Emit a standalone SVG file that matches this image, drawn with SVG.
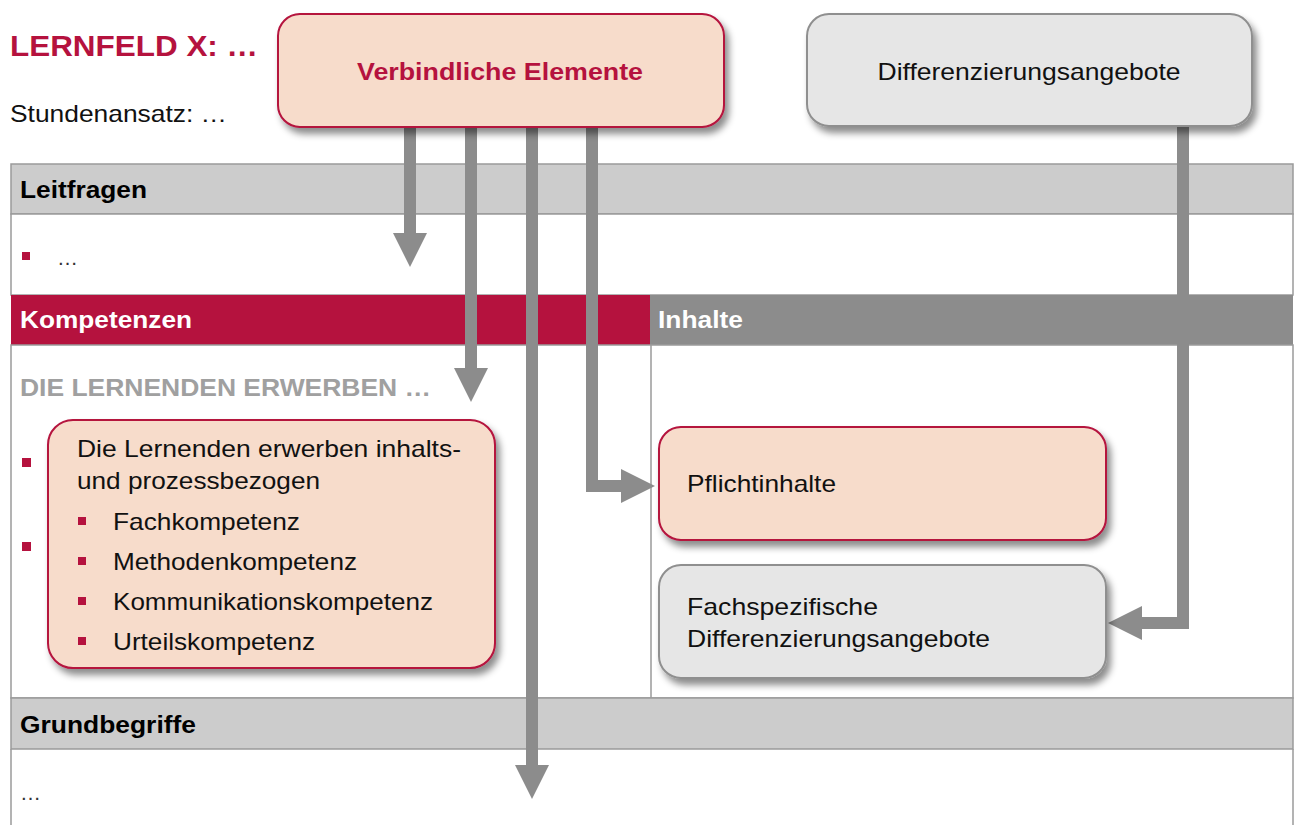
<svg xmlns="http://www.w3.org/2000/svg" width="1295" height="825" viewBox="0 0 1295 825">
<style>
text{font-family:"Liberation Sans",Arial,sans-serif}
.hd{font-size:23.5px;font-weight:bold}
.t24{font-size:24px;fill:#111}
.red{fill:#b5123e}
.wh{fill:#fff}
.conn{fill:none;stroke:#8c8c8c;stroke-width:12;stroke-linejoin:miter;marker-end:url(#ah)}
.pink{fill:#f7dccb;stroke:#b5123e;stroke-width:2}
.grey{fill:#e6e6e6;stroke:#8f8f8f;stroke-width:2}
.grid{fill:none;stroke:#9a9a9a;stroke-width:1.5}
</style>
<defs>
<filter id="sh" x="-10%" y="-20%" width="125%" height="150%">
<feDropShadow dx="4" dy="6" stdDeviation="3.5" flood-color="#000" flood-opacity="0.45"/>
</filter>
<marker id="ah" markerUnits="userSpaceOnUse" markerWidth="36" markerHeight="36" viewBox="0 -18 36 36" refX="0" refY="0" orient="auto">
<path d="M0,-17 L34,0 L0,17 Z" fill="#8c8c8c"/>
</marker>
</defs>
<rect width="1295" height="825" fill="#fff"/>

<g id="header">
<text x="10" y="56" font-size="29" font-weight="bold" class="red" textLength="248" lengthAdjust="spacingAndGlyphs">LERNFELD X: …</text>
<text x="10" y="122" class="t24" textLength="217" lengthAdjust="spacingAndGlyphs">Stundenansatz: …</text>
</g>

<g id="table">
<rect x="11" y="164" width="1282" height="50" fill="#cccccc" stroke="#9a9a9a" stroke-width="1.5"/>
<text x="20" y="198" class="hd" fill="#000" textLength="127" lengthAdjust="spacingAndGlyphs">Leitfragen</text>
<rect x="11" y="214" width="1282" height="81" fill="#fff" stroke="#9a9a9a" stroke-width="1.5"/>
<rect x="22" y="252" width="8" height="8" fill="#b5123e"/>
<text x="57" y="265" font-size="21" fill="#333">…</text>
<rect x="11" y="295" width="639" height="50" fill="#b5123e"/>
<rect x="650" y="295" width="643" height="50" fill="#8c8c8c"/>
<text x="20" y="328" class="hd wh" textLength="172" lengthAdjust="spacingAndGlyphs">Kompetenzen</text>
<text x="658" y="328" class="hd wh" textLength="85" lengthAdjust="spacingAndGlyphs">Inhalte</text>
<rect x="11" y="345" width="1282" height="353" fill="#fff" stroke="#9a9a9a" stroke-width="1.5"/>
<line x1="651" y1="345" x2="651" y2="698" stroke="#9a9a9a" stroke-width="1.5"/>
<text x="20" y="396" class="hd" fill="#a0a0a0" textLength="411" lengthAdjust="spacingAndGlyphs">DIE LERNENDEN ERWERBEN …</text>
<rect x="22" y="458" width="9" height="9" fill="#b5123e"/>
<rect x="22" y="542" width="9" height="9" fill="#b5123e"/>
<rect x="11" y="698" width="1282" height="51" fill="#cccccc" stroke="#9a9a9a" stroke-width="1.5"/>
<text x="20" y="733" class="hd" fill="#000" textLength="176" lengthAdjust="spacingAndGlyphs">Grundbegriffe</text>
<path d="M11,749 V825 M1293,749 V825" class="grid"/>
<text x="20" y="800" font-size="21" fill="#333">…</text>
</g>

<g id="connectors">
<path class="conn" d="M410,127 V233"/>
<path class="conn" d="M471,127 V368"/>
<path class="conn" d="M532,127 V765"/>
<path class="conn" d="M592,127 V486 H621"/>
<path class="conn" d="M1183,127 V623 H1142"/>
</g>

<g id="verbindliche">
<rect x="278" y="14" width="446" height="113" rx="22" class="pink" filter="url(#sh)"/>
<text x="500" y="80" text-anchor="middle" font-size="24" font-weight="bold" class="red" textLength="286" lengthAdjust="spacingAndGlyphs">Verbindliche Elemente</text>
</g>

<g id="differenzierung">
<rect x="807" y="14" width="445" height="112" rx="22" class="grey" filter="url(#sh)"/>
<text x="1029" y="80" text-anchor="middle" class="t24" textLength="303" lengthAdjust="spacingAndGlyphs">Differenzierungsangebote</text>
</g>

<g id="kompetenzbox">
<rect x="48" y="420" width="447" height="248" rx="25" class="pink" filter="url(#sh)"/>
<text x="77" y="457" class="t24" textLength="384" lengthAdjust="spacingAndGlyphs">Die Lernenden erwerben inhalts-</text>
<text x="77" y="489" class="t24" textLength="243" lengthAdjust="spacingAndGlyphs">und prozessbezogen</text>
<rect x="78" y="517" width="8" height="8" fill="#b5123e"/>
<rect x="78" y="557" width="8" height="8" fill="#b5123e"/>
<rect x="78" y="597" width="8" height="8" fill="#b5123e"/>
<rect x="78" y="637" width="8" height="8" fill="#b5123e"/>
<text x="113" y="530" class="t24" textLength="187" lengthAdjust="spacingAndGlyphs">Fachkompetenz</text>
<text x="113" y="570" class="t24" textLength="244" lengthAdjust="spacingAndGlyphs">Methodenkompetenz</text>
<text x="113" y="610" class="t24" textLength="320" lengthAdjust="spacingAndGlyphs">Kommunikationskompetenz</text>
<text x="113" y="650" class="t24" textLength="202" lengthAdjust="spacingAndGlyphs">Urteilskompetenz</text>
</g>

<g id="pflichtinhalte">
<rect x="659" y="427" width="447" height="113" rx="22" class="pink" filter="url(#sh)"/>
<text x="687" y="492" class="t24" textLength="149" lengthAdjust="spacingAndGlyphs">Pflichtinhalte</text>
</g>

<g id="fachspezifisch">
<rect x="659" y="565" width="447" height="113" rx="22" class="grey" filter="url(#sh)"/>
<text x="687" y="615" class="t24" textLength="191" lengthAdjust="spacingAndGlyphs">Fachspezifische</text>
<text x="687" y="647" class="t24" textLength="303" lengthAdjust="spacingAndGlyphs">Differenzierungsangebote</text>
</g>
</svg>
